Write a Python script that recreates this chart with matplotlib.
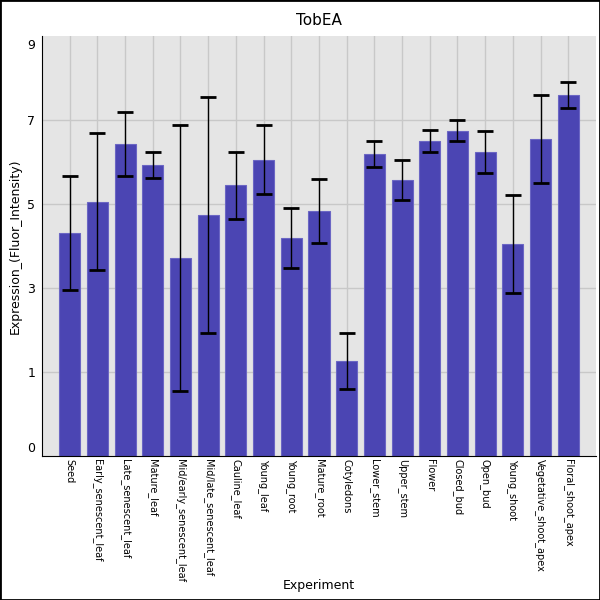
import matplotlib
matplotlib.use("Agg")
import matplotlib.pyplot as plt
import matplotlib.transforms as mtransforms
from matplotlib.patches import Rectangle
import numpy as np

# tissue names and expression
tissues = ["Seed", "Early_senescent_leaf", "Late_senescent_leaf", "Mature_leaf",
           "Mid/early_senescent_leaf", "Mid/late_senescent_leaf", "Cauline_leaf",
           "Young_leaf", "Young_root", "Mature_root", "Cotyledons", "Lower_stem",
           "Upper_stem", "Flower", "Closed_bud", "Open_bud", "Young_shoot",
           "Vegetative_shoot_apex", "Floral_shoot_apex"]
means = [4.31, 5.05, 6.43, 5.93, 3.71, 4.74, 5.45, 6.05, 4.19, 4.83, 1.26,
         6.19, 5.57, 6.50, 6.74, 6.24, 4.05, 6.55, 7.60]
errors = [1.36, 1.63, 0.76, 0.30, 3.16, 2.81, 0.80, 0.82, 0.71, 0.77, 0.67,
          0.32, 0.47, 0.26, 0.25, 0.50, 1.17, 1.05, 0.31]

ytick_pos = [-1, 1, 3, 5, 7, 9]
ytick_txt = ["0", "1", "3", "5", "7", "9"]
ymin, ymax = -1, 9

fig = plt.figure(figsize=(6, 6), dpi=100)
ax = fig.add_axes([0.07, 0.24, 0.9233, 0.70])
ax.set_facecolor("#e5e5e5")

x = np.arange(len(tissues))
ax.bar(x, np.array(means) - ymin, bottom=ymin, width=0.76, color="#4b45b3",
       edgecolor="#6b66c4", linewidth=0.8, zorder=2)
ax.errorbar(x, means, yerr=errors, fmt="none", ecolor="black", elinewidth=1.0,
            capsize=5.6, capthick=2, zorder=3)

ax.set_xlim(-1, len(tissues))
ax.set_ylim(ymin, ymax)

# gridlines at bar centres and odd values
for xi in x:
    ax.axvline(xi, color="#c8c8c8", lw=1.0, zorder=1)
for yv in [1, 3, 5, 7]:
    ax.axhline(yv, color="#c8c8c8", lw=1.0, zorder=1)

ax.set_xticks(x)
ax.set_xticklabels(tissues, rotation=270, fontsize=7, va="top", ha="center")
ax.set_yticks(ytick_pos)
ax.set_yticklabels(ytick_txt, fontsize=9)
ax.tick_params(axis="both", length=0, pad=2)
ax.tick_params(axis="y", pad=5)

labels = ax.get_yticklabels()
labels[0].set_transform(labels[0].get_transform() +
                        mtransforms.ScaledTranslation(0, 9 / 100, fig.dpi_scale_trans))
labels[-1].set_transform(labels[-1].get_transform() +
                         mtransforms.ScaledTranslation(0, -8 / 100, fig.dpi_scale_trans))

for side in ["top", "right"]:
    ax.spines[side].set_visible(False)
ax.spines["left"].set_color("black")
ax.spines["bottom"].set_color("black")

ax.set_title("TobEA", fontsize=11, pad=8)
ax.set_ylabel("Expression_(Fluor_Intensity)", fontsize=9)
fig.text(0.5 * (0.07 + 0.9933), 1 - 585 / 600, "Experiment", fontsize=9,
         ha="center", va="center")

fig.patches.append(Rectangle((0, 0), 1, 1, transform=fig.transFigure, fill=False,
                             edgecolor="black", linewidth=2))

fig.savefig("out.png", dpi=100)
